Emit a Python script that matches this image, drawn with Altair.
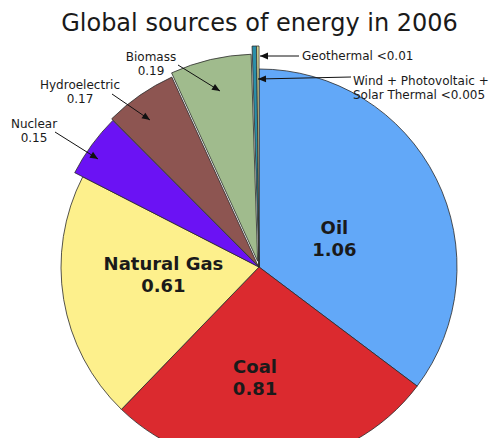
import math
import altair as alt
import pandas as pd

# ---- data ----
categories = ["Oil", "Coal", "Natural Gas", "Nuclear", "Hydroelectric", "Biomass",
              "Geothermal", "Wind + Photovoltaic + Solar Thermal"]
values = [1.06, 0.81, 0.61, 0.15, 0.17, 0.19, 0.01, 0.005]
value_labels = ["1.06", "0.81", "0.61", "0.15", "0.17", "0.19", "<0.01", "<0.005"]
title_text = "Global sources of energy in 2006"

# ---- styles / layout ----
colors = ["#62a8f8", "#db2a2f", "#fdf08c", "#6b12f4", "#8d5551", "#a0bb8d",
          "#2b8fa9", "#f3f3a4"]
W, H, TOP = 483, 390, 40
CX, CY = 251, 219            # pie centre inside the plot area
radius_by_cat = {"Oil": 198, "Coal": 198, "Natural Gas": 198, "Nuclear": 207,
                 "Hydroelectric": 207, "Biomass": 207, "Geothermal": 221,
                 "Wind + Photovoltaic + Solar Thermal": 221}
explode_by_cat = {"Hydroelectric": 2, "Biomass": 6}
label_radius = {"Oil": 80, "Coal": 112, "Natural Gas": 96}
label_shift_deg = {"Oil": 7, "Coal": 6.5, "Natural Gas": 4}
FONT = "DejaVu Sans"
INK = "#1a1a1a"


def lookup_expr(mapping, default):
    expr = str(default)
    for k, v in mapping.items():
        expr = f"datum.category == '{k}' ? {v} : ({expr})"
    return expr


df = pd.DataFrame({"category": categories, "value": values,
                   "value_label": value_labels, "order": list(range(len(categories)))})

base = (
    alt.Chart(df)
    .transform_joinaggregate(total="sum(value)")
    .transform_window(cum="sum(value)", sort=[alt.SortField("order")], frame=[None, 0])
    .transform_calculate(
        t0="(datum.cum - datum.value) / datum.total * 2 * PI",
        t1="datum.cum / datum.total * 2 * PI",
        r=lookup_expr(radius_by_cat, 198),
        ex=lookup_expr(explode_by_cat, 0),
        lr=lookup_expr(label_radius, 0),
        ls=lookup_expr(label_shift_deg, 0),
    )
    .transform_calculate(
        mid="(datum.t0 + datum.t1) / 2",
    )
    .transform_calculate(
        la="datum.mid + datum.ls * PI / 180",
        ax=f"{CX} + datum.ex * sin(datum.mid)",
        ay=f"{CY} - datum.ex * cos(datum.mid)",
        txt="datum.category + '\\n' + datum.value_label",
    )
    .transform_calculate(
        lx=f"{CX} + datum.lr * sin(datum.la)",
        ly=f"{CY} - datum.lr * cos(datum.la)",
    )
)

arcs = base.mark_arc(stroke="#2a2a2a", strokeWidth=0.8).encode(
    theta=alt.Theta("t0:Q", scale=None, stack=False),
    theta2="t1:Q",
    radius=alt.Radius("r:Q", scale=None),
    x=alt.X("ax:Q", scale=None, axis=None),
    y=alt.Y("ay:Q", scale=None, axis=None),
    color=alt.Color("category:N", scale=alt.Scale(domain=categories, range=colors), legend=None),
)

main_labels = base.transform_filter(
    alt.FieldOneOfPredicate(field="category", oneOf=list(label_radius.keys()))
).mark_text(font=FONT, fontSize=18, fontWeight="bold", color=INK, lineBreak="\n",
            lineHeight=22, align="center", baseline="middle", dy=-11).encode(
    x=alt.X("lx:Q", scale=None, axis=None),
    y=alt.Y("ly:Q", scale=None, axis=None),
    text="txt:N",
)

# ---- callouts: page coordinates of first text line, arrow tail and arrow head ----
OX, OY = 8, 8 + TOP
cat_val = dict(zip(categories, value_labels))
wind = categories[7].split(" + ")
callouts = [
    ([categories[5], cat_val[categories[5]]], (151, 57), "center", (178, 65), (220, 91)),
    ([categories[4], cat_val[categories[4]]], (80, 85), "center", (112, 94), (150, 120)),
    ([categories[3], cat_val[categories[3]]], (34, 124), "center", (55, 132), (98, 159)),
    ([f"{categories[6]} {cat_val[categories[6]]}"], (302, 56), "left", (299, 56), (260, 56)),
    ([f"{wind[0]} + {wind[1]} +", f"{wind[2]} {cat_val[categories[7]]}"], (353, 81), "left",
     (351, 77), (258, 79)),
]

one = alt.Data(values=[{"k": 0}])
ann_layers = []
for lines, (tx, ty), align, (x0, y0), (x1, y1) in callouts:
    ann_layers.append(
        alt.Chart(one).mark_text(font=FONT, fontSize=12, color=INK, align=align,
                                 baseline="middle", lineHeight=14).encode(
            x=alt.value(tx - OX), y=alt.value(ty - OY), text=alt.value(lines))
    )
    ann_layers.append(
        alt.Chart(one).mark_rule(color="#111111", strokeWidth=1).encode(
            x=alt.value(x0 - OX), y=alt.value(y0 - OY),
            x2=alt.value(x1 - OX), y2=alt.value(y1 - OY))
    )
    ang = math.degrees(math.atan2(y1 - y0, x1 - x0)) % 360
    ann_layers.append(
        alt.Chart(one).mark_point(shape="M0,0L-2,-0.85L-2,0.85Z", filled=True,
                                  color="#111111", size=64, angle=ang, opacity=1).encode(
            x=alt.value(x1 - OX), y=alt.value(y1 - OY))
    )

chart = alt.layer(arcs, main_labels, *ann_layers).properties(
    width=W, height=H,
    autosize=alt.AutoSizeParams(type="none"),
    padding={"left": 0, "top": TOP, "right": 0, "bottom": 0},
    title=alt.Title(title_text, font=FONT, fontSize=24, fontWeight="normal",
                    color=INK, anchor="middle", frame="group", offset=8, dx=10),
).configure_view(strokeWidth=0)

chart.save("out.html", embed_options={"renderer": "svg", "actions": False})
